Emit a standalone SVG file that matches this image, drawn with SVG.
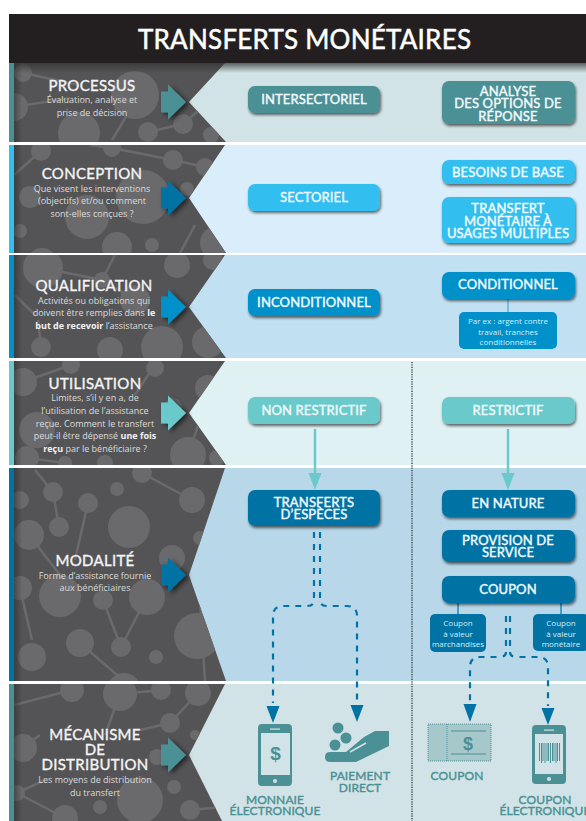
<svg xmlns="http://www.w3.org/2000/svg" width="586" height="821" viewBox="0 0 586 821">
<style>
text{font-family:"Lato","Open Sans","Liberation Sans",sans-serif;text-anchor:middle}
.hd{font-size:15px;font-weight:400;fill:#f4f4f4;stroke:#f4f4f4;stroke-width:.35px;letter-spacing:.3px}
.sub{font-family:"Open Sans","Liberation Sans",sans-serif;font-size:9px;fill:#dcdcdc}
.sub tspan{font-weight:700;fill:#f2f2f2}
.bt{font-size:13px;font-weight:400;fill:#f2fafc;stroke:#f2fafc;stroke-width:.4px;letter-spacing:.15px}
.sm{font-family:"Open Sans","Liberation Sans",sans-serif;font-size:8px;fill:#d5eef8}
.lab{font-size:12px;font-weight:400;fill:#4b9095;stroke:#4b9095;stroke-width:.4px;letter-spacing:.1px}
.usd{font-family:"Liberation Sans",sans-serif;font-weight:700;fill:#4b9095}
.c circle{fill:#6a6a6c}
.c path{fill:none;stroke:#6a6a6c;stroke-width:2.5}
.dark{fill:#545456}
.box{filter:url(#sh)}
.dash{fill:none;stroke:#0073a4;stroke-width:2.2;stroke-dasharray:6 6}
.ar{filter:url(#sh2)}
.t{fill:#4b9095}.s{fill:#33bfef}.b{fill:#0091cb}.g{fill:#6bc9cb}.d{fill:#0073a4}
</style>
<defs>
<filter id="sh" x="-10%" y="-20%" width="125%" height="145%"><feGaussianBlur in="SourceAlpha" stdDeviation="1.500"/><feOffset dx="1" dy="1.500"/><feComponentTransfer><feFuncA type="linear" slope=".6"/></feComponentTransfer><feMerge><feMergeNode/><feMergeNode in="SourceGraphic"/></feMerge></filter>
<filter id="sh2" x="-30%" y="-30%" width="170%" height="170%"><feGaussianBlur in="SourceAlpha" stdDeviation="2.500"/><feOffset dx="3" dy="2"/><feComponentTransfer><feFuncA type="linear" slope=".6"/></feComponentTransfer><feMerge><feMergeNode/><feMergeNode in="SourceGraphic"/></feMerge></filter>
<linearGradient id="hg" x1="0" y1="0" x2="0" y2="1"><stop offset="0" stop-color="#333" stop-opacity=".75"/><stop offset="1" stop-color="#333" stop-opacity="0"/></linearGradient>
<linearGradient id="lg" x1="0" y1="0" x2="1" y2="0"><stop offset="0" stop-color="#222" stop-opacity=".45"/><stop offset="1" stop-color="#222" stop-opacity="0"/></linearGradient>
<clipPath id="c1"><polygon points="14,63 225,63 189,102 226,142 14,142"/></clipPath>
<clipPath id="c2"><polygon points="14,145 225,145 189,198 226,253 14,253"/></clipPath>
<clipPath id="c3"><polygon points="14,255 225,255 189,307 226,358 14,358"/></clipPath>
<clipPath id="c4"><polygon points="14,361 225,361 189,413 226,465 14,465"/></clipPath>
<clipPath id="c5"><polygon points="14,468 225,468 189,575 226,681 14,681"/></clipPath>
<clipPath id="c6"><polygon points="14,684 225,684 189,755 222,821 14,821"/></clipPath>
<polygon id="ah" points="0,-10.500 7,-10.500 7,-17.500 25,0 7,17.500 7,10.500 0,10.500"/>
</defs>

<g id="header"><rect x="9" y="14" width="577" height="49" fill="#231f20"/>
<text x="304.500" y="49" font-size="26" fill="#fff" stroke="#fff" stroke-width=".5" textLength="333">TRANSFERTS MONÉTAIRES</text></g>

<g id="band-processus">
<rect x="9" y="63" width="577" height="79" fill="#d1e3e6"/><rect x="9" y="63" width="5" height="79" class="t"/>
<polygon class="dark" points="14,63 225,63 189,102 226,142 14,142"/>
<g class="c" clip-path="url(#c1)"><path d="M23,73L79,85M14,107L70,98M148,132L183,124M183,124L205,105M112,140L130,110"/><circle cx="23" cy="73" r="9"/><circle cx="14" cy="107" r="14"/><circle cx="79" cy="133" r="21"/><circle cx="135" cy="95" r="24"/><circle cx="148" cy="132" r="10"/><circle cx="183" cy="124" r="10"/><circle cx="211" cy="135" r="8"/></g>
<rect x="14" y="63" width="8" height="79" fill="url(#lg)"/>
<rect x="14" y="63" width="572" height="10" fill="url(#hg)"/>
<use href="#ah" x="161" y="102" class="t ar"/>
<text class="hd" x="92" y="91">PROCESSUS</text>
<text class="sub" x="92" y="103">Évaluation, analyse et</text><text class="sub" x="92" y="116">prise de décision</text>
</g>

<g id="band-conception">
<rect x="9" y="145" width="577" height="108" fill="#d9eefa"/><rect x="9" y="145" width="5" height="108" class="s"/>
<polygon class="dark" points="14,145 225,145 189,198 226,253 14,253"/>
<g class="c" clip-path="url(#c2)"><path d="M41,151L14,175M112,148L173,160M173,160L205,167M90,145L112,148M195,225L180,253M20,231L14,235"/><circle cx="41" cy="151" r="10"/><circle cx="112" cy="148" r="9"/><circle cx="173" cy="160" r="10"/><circle cx="205" cy="167" r="9"/><circle cx="30" cy="197" r="11"/><circle cx="87" cy="217" r="22"/><circle cx="143" cy="197" r="27"/><circle cx="187" cy="189" r="7"/><circle cx="20" cy="231" r="7"/><circle cx="117" cy="247" r="15"/><circle cx="152" cy="245" r="7"/><circle cx="42" cy="263" r="15"/><circle cx="217" cy="243" r="17"/></g>
<rect x="14" y="145" width="8" height="108" fill="url(#lg)"/>
<use href="#ah" x="161" y="198" class="d ar"/>
<text class="hd" x="92" y="179">CONCEPTION</text>
<text class="sub" x="92" y="192">Que visent les interventions</text><text class="sub" x="92" y="204">(objectifs) et/ou comment</text><text class="sub" x="92" y="217">sont-elles conçues ?</text>
</g>

<g id="band-qualification">
<rect x="9" y="255" width="577" height="103" fill="#c1e1f3"/><rect x="9" y="255" width="5" height="103" class="b"/>
<polygon class="dark" points="14,255 225,255 189,307 226,358 14,358"/>
<g class="c" clip-path="url(#c3)"><path d="M43,268L102,280M102,280L115,255M102,280L135,300M41,347L38,320M15,295L35,315"/><circle cx="43" cy="268" r="20"/><circle cx="102" cy="280" r="8"/><circle cx="177" cy="265" r="13"/><circle cx="135" cy="300" r="15"/><circle cx="213" cy="260" r="10"/><circle cx="41" cy="347" r="10"/><circle cx="110" cy="350" r="13"/><circle cx="162" cy="347" r="21"/><circle cx="208" cy="342" r="16"/></g>
<rect x="14" y="255" width="8" height="103" fill="url(#lg)"/>
<use href="#ah" x="161" y="307" class="b ar"/>
<text class="hd" x="94" y="291">QUALIFICATION</text>
<text class="sub" x="94" y="304">Activités ou obligations qui</text><text class="sub" x="94" y="316">doivent être remplies dans <tspan>le</tspan></text><text class="sub" x="94" y="329"><tspan>but de recevoir</tspan> l’assistance</text>
</g>

<g id="band-utilisation">
<rect x="9" y="361" width="577" height="104" fill="#e0f1f4"/><rect x="9" y="361" width="5" height="104" class="g"/>
<polygon class="dark" points="14,361 225,361 189,413 226,465 14,465"/>
<g class="c" clip-path="url(#c4)"><path d="M71,365L23,382M150,372L135,395M188,455L200,420M27,458L65,463"/><circle cx="71" cy="365" r="9"/><circle cx="23" cy="382" r="14"/><circle cx="155" cy="368" r="9"/><circle cx="208" cy="388" r="13"/><circle cx="173" cy="407" r="9"/><circle cx="37" cy="430" r="18"/><circle cx="188" cy="455" r="18"/><circle cx="65" cy="463" r="7"/><circle cx="27" cy="458" r="12"/><circle cx="105" cy="463" r="8"/><circle cx="217" cy="458" r="8"/></g>
<rect x="14" y="361" width="8" height="104" fill="url(#lg)"/>
<use href="#ah" x="161" y="413" class="g ar"/>
<text class="hd" x="95" y="389">UTILISATION</text>
<text class="sub" x="95" y="401">Limites, s’il y en a, de</text><text class="sub" x="95" y="414">l’utilisation de l’assistance</text><text class="sub" x="95" y="427">reçue. Comment le transfert</text><text class="sub" x="95" y="439">peut-il être dépensé <tspan>une fois</tspan></text><text class="sub" x="95" y="452"><tspan>reçu</tspan> par le bénéficiaire ?</text>
</g>

<g id="band-modalite">
<rect x="9" y="468" width="577" height="213" fill="#b8d8ea"/><rect x="9" y="468" width="5" height="213" class="d"/>
<polygon class="dark" points="14,468 225,468 189,575 226,681 14,681"/>
<g class="c" clip-path="url(#c5)"><path d="M35,470L53,492M53,492L59,527M88,503L75,560M142,473L192,500M29,535L60,575M20,588L32,640M147,597L121,647M103,600L121,647M80,643L124,681M200,600L205,681"/><circle cx="20" cy="500" r="9"/><circle cx="29" cy="535" r="15"/><circle cx="53" cy="492" r="10"/><circle cx="88" cy="503" r="10"/><circle cx="117" cy="489" r="7"/><circle cx="59" cy="527" r="10"/><circle cx="129" cy="527" r="21"/><circle cx="142" cy="473" r="10"/><circle cx="192" cy="500" r="13"/><circle cx="200" cy="538" r="7"/><circle cx="172" cy="558" r="13"/><circle cx="60" cy="596" r="21"/><circle cx="103" cy="600" r="10"/><circle cx="147" cy="597" r="18"/><circle cx="20" cy="588" r="12"/><circle cx="80" cy="643" r="14"/><circle cx="121" cy="647" r="10"/><circle cx="32" cy="657" r="14"/><circle cx="156" cy="657" r="7"/><circle cx="197" cy="636" r="23"/><circle cx="124" cy="690" r="17"/></g>
<rect x="14" y="468" width="8" height="213" fill="url(#lg)"/>
<use href="#ah" x="161" y="575" class="d ar"/>
<text class="hd" x="95" y="566">MODALITÉ</text>
<text class="sub" x="95" y="579">Forme d’assistance fournie</text><text class="sub" x="95" y="591">aux bénéficiaires</text>
</g>

<g id="band-mecanisme">
<rect x="9" y="684" width="577" height="137" fill="#d1e3e6"/><rect x="9" y="684" width="5" height="137" class="t"/>
<polygon class="dark" points="14,684 225,684 189,755 222,821 14,821"/>
<g class="c" clip-path="url(#c6)"><path d="M14,705L72,690M120,694L105,735M161,690L120,694M170,723L140,730M198,693L170,723M23,748L40,735M17,793L65,818M17,793L45,780M190,810L222,807"/><circle cx="72" cy="690" r="12"/><circle cx="120" cy="694" r="17"/><circle cx="161" cy="690" r="10"/><circle cx="198" cy="693" r="13"/><circle cx="170" cy="723" r="10"/><circle cx="195" cy="735" r="5"/><circle cx="157" cy="757" r="8"/><circle cx="23" cy="748" r="14"/><circle cx="140" cy="800" r="23"/><circle cx="174" cy="787" r="7"/><circle cx="190" cy="810" r="10"/><circle cx="100" cy="807" r="7"/><circle cx="65" cy="818" r="13"/><circle cx="17" cy="793" r="8"/></g>
<rect x="14" y="684" width="8" height="137" fill="url(#lg)"/>
<use href="#ah" x="161" y="755" class="t ar"/>
<text class="hd" x="95" y="740">MÉCANISME</text><text class="hd" x="95" y="755">DE</text><text class="hd" x="95" y="770">DISTRIBUTION</text>
<text class="sub" x="95" y="783">Les moyens de distribution</text><text class="sub" x="95" y="796">du transfert</text>
</g>

<g id="connectors">
<line x1="412" y1="362" x2="412" y2="821" stroke="#222" stroke-width="1.200" stroke-dasharray="1.200 1.200"/>
<path d="M315,429V474M508,429V474" fill="none" stroke="#6bc9cb" stroke-width="2.500"/>
<polygon class="g" points="308.500,473 321.500,473 315,490"/><polygon class="g" points="501.500,473 514.500,473 508,490"/>
<path d="M508,299V312" stroke="#5db3dc" stroke-width="1.500" fill="none"/>
<path d="M458,603V614M561,603V614" stroke="#0073a4" stroke-width="1.200" fill="none"/>
<path class="dash" d="M314,532V600Q314,606 307,606H283Q273,606 273,616V703"/>
<path class="dash" d="M320,532V600Q320,606 327,606H347Q357,606 357,616V703"/>
<polygon class="d" points="266.500,706 279.500,706 273,723"/><polygon class="d" points="350.500,705 363.500,705 357,722"/>
<path class="dash" d="M506,616V652Q506,657 499,657H480Q470,657 470,667V702"/>
<path class="dash" d="M510,616V652Q510,657 517,657H538Q548,657 548,667V706"/>
<polygon class="d" points="463.500,704 476.500,704 470,722"/><polygon class="d" points="541.500,708 554.500,708 548,725"/>
</g>

<g id="n-intersectoriel"><rect class="box t" x="248" y="86" width="132" height="27" rx="7"/><text class="bt" x="314" y="104">INTERSECTORIEL</text></g>
<g id="n-analyse"><rect class="box t" x="442" y="81" width="133" height="43" rx="7"/><text class="bt" x="508" y="95.500">ANALYSE</text><text class="bt" x="508" y="108">DES OPTIONS DE</text><text class="bt" x="508" y="120.500">RÉPONSE</text></g>
<g id="n-sectoriel"><rect class="box s" x="248" y="184" width="132" height="27" rx="7"/><text class="bt" x="314" y="202">SECTORIEL</text></g>
<g id="n-besoins"><rect class="box s" x="442" y="160" width="133" height="24" rx="7"/><text class="bt" x="508" y="176.500">BESOINS DE BASE</text></g>
<g id="n-transfert"><rect class="box s" x="442" y="197" width="133" height="46" rx="7"/><text class="bt" x="508" y="213">TRANSFERT</text><text class="bt" x="508" y="225.500">MONÉTAIRE À</text><text class="bt" x="508" y="238">USAGES MULTIPLES</text></g>
<g id="n-inconditionnel"><rect class="box b" x="248" y="289" width="132" height="27" rx="7"/><text class="bt" x="314" y="307">INCONDITIONNEL</text></g>
<g id="n-conditionnel"><rect class="box b" x="442" y="272" width="133" height="27" rx="7"/><text class="bt" x="508" y="289">CONDITIONNEL</text></g>
<g id="n-parex"><rect class="b" x="459" y="312" width="98" height="37" rx="5"/><text class="sm" x="508" y="324">Par ex : argent contre</text><text class="sm" x="508" y="335">travail, tranches</text><text class="sm" x="508" y="345">conditionnelles</text></g>
<g id="n-nonrestrictif"><rect class="box g" x="248" y="397" width="132" height="27" rx="7"/><text class="bt" x="314" y="415">NON RESTRICTIF</text></g>
<g id="n-restrictif"><rect class="box g" x="442" y="397" width="133" height="27" rx="7"/><text class="bt" x="508" y="415">RESTRICTIF</text></g>
<g id="n-especes"><rect class="box d" x="248" y="490" width="132" height="36" rx="7"/><text class="bt" x="314" y="507">TRANSFERTS</text><text class="bt" x="314" y="519">D’ESPÈCES</text></g>
<g id="n-nature"><rect class="box d" x="442" y="490" width="133" height="27" rx="7"/><text class="bt" x="508" y="508">EN NATURE</text></g>
<g id="n-provision"><rect class="box d" x="442" y="530" width="133" height="32" rx="7"/><text class="bt" x="508" y="545">PROVISION DE</text><text class="bt" x="508" y="557">SERVICE</text></g>
<g id="n-coupon"><rect class="box d" x="442" y="576" width="133" height="27" rx="7"/><text class="bt" x="508" y="594">COUPON</text></g>
<g id="n-coupon-march"><rect class="d" x="430" y="614" width="56" height="38" rx="5"/><text class="sm" x="458" y="626">Coupon</text><text class="sm" x="458" y="637">à valeur</text><text class="sm" x="458" y="647">marchandises</text></g>
<g id="n-coupon-mon"><rect class="d" x="533" y="614" width="56" height="37" rx="5"/><text class="sm" x="561" y="626">Coupon</text><text class="sm" x="561" y="637">à valeur</text><text class="sm" x="561" y="647">monétaire</text></g>

<g id="n-monnaie"><rect class="t" x="258" y="724" width="34" height="62" rx="4"/><rect x="261" y="733" width="29" height="42" fill="#d1e3e6"/><rect x="270" y="728.500" width="10" height="1.200" fill="#d1e3e6"/><circle cx="275" cy="781" r="2" fill="#d1e3e6"/><text class="usd" x="275.500" y="760" font-size="19">$</text>
<text class="lab" x="275" y="804">MONNAIE</text><text class="lab" x="275" y="815">ÉLECTRONIQUE</text></g>
<g id="n-paiement"><circle class="t" cx="338" cy="728" r="5.500"/><circle class="t" cx="346" cy="738" r="5.500"/><circle class="t" cx="335" cy="745" r="5.500"/>
<path class="t" d="M389,731V746L356,762H330Q325,762 325,757Q325,752 330,752H346L364,737L375,731Z"/><path d="M350,752L366,743" stroke="#d1e3e6" stroke-width="1.500" fill="none"/>
<text class="lab" x="360" y="780">PAIEMENT</text><text class="lab" x="360" y="792">DIRECT</text></g>
<g id="n-coupon-icon"><rect x="428" y="724" width="63" height="37" fill="#a7c8cb" stroke="#4b9095" stroke-width="1" stroke-dasharray="1 1"/><line x1="447" y1="724" x2="447" y2="761" stroke="#4b9095" stroke-dasharray="1 1"/><path d="M451,731H486M451,754H486" stroke="#4b9095" stroke-width="1.200"/><text class="usd" x="468" y="750" font-size="18">$</text>
<text class="lab" x="457" y="780">COUPON</text></g>
<g id="n-coupon-elec"><rect class="t" x="532" y="725" width="34" height="59" rx="4"/><rect x="535" y="734" width="28" height="40" fill="#d1e3e6"/><rect x="544" y="729.500" width="10" height="1.200" fill="#d1e3e6"/><circle cx="549" cy="779" r="2" fill="#d1e3e6"/>
<path d="M539.500,743V761M541.500,743V763M543,743V761M545,743V763M547,743V761M548.500,743V761M550.500,743V763M552.500,743V761M554,743V761M556,743V763M557.500,743V761M559.500,743V761" stroke="#4b9095" stroke-width="1"/>
<text class="lab" x="545" y="804">COUPON</text><text class="lab" x="545" y="815">ÉLECTRONIQUE</text></g>
</svg>
